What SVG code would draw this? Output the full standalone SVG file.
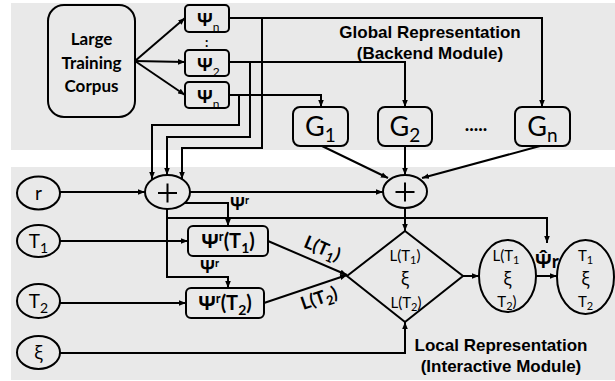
<svg xmlns="http://www.w3.org/2000/svg" width="615" height="381" viewBox="0 0 615 381">
  <defs>
    <marker id="ah" viewBox="0 0 10 10" refX="10" refY="5" markerWidth="7" markerHeight="7" orient="auto" markerUnits="userSpaceOnUse">
      <path d="M0,1 L10,5 L0,9 z" fill="#000"/>
    </marker>
    <style>
      .panel { fill: #e9e9e9; stroke: none; }
      .box { fill: #e9e9e9; stroke: #000; stroke-width: 2; }
      .ln { fill: none; stroke: #000; stroke-width: 2; }
      .arr { fill: none; stroke: #000; stroke-width: 2; marker-end: url(#ah); }
      .cal { font-family: Lato, "Open Sans", "DejaVu Sans", sans-serif; fill: #000; }
      .gk { font-family: "Open Sans", "DejaVu Sans", sans-serif; }
      .ar { font-family: "Liberation Sans", Arial, sans-serif; font-weight: bold; font-size: 17px; fill: #000; text-anchor: middle; }
      .b { font-weight: bold; }
      .mid { text-anchor: middle; }
    </style>
  </defs>

  <!-- module backgrounds -->
  <rect class="panel" x="11" y="3" width="604" height="147"/>
  <rect class="panel" x="11" y="167" width="604" height="213"/>

  <!-- module captions -->
  <text class="ar" x="430" y="38">Global Representation</text>
  <text class="ar" x="430" y="59">(Backend Module)</text>
  <text class="ar" x="501" y="351">Local Representation</text>
  <text class="ar" x="501" y="372">(Interactive Module)</text>

  <!-- connectors -->
  <g id="connectors">
    <path class="arr" d="M135,61 L185,18"/>
    <path class="arr" d="M135,61 L185,62"/>
    <path class="arr" d="M135,61 L185,95"/>
    <path class="arr" d="M229,18 H542 V107"/>
    <path class="arr" d="M229,62 H405 V107"/>
    <path class="arr" d="M229,95 H321 V107"/>
    <path class="arr" d="M262,18 V148 H182 V179"/>
    <path class="arr" d="M250,62 V137 H167 V175"/>
    <path class="arr" d="M239,95 V125 H152 V179"/>
    <path class="arr" d="M60,192 H145"/>
    <path class="arr" d="M190,192 H383"/>
    <path class="arr" d="M185,203 H228 V226"/>
    <path class="arr" d="M167,209 V277 H228 V288"/>
    <path class="arr" d="M167,218 H547 V243"/>
    <path class="arr" d="M60,241 H188"/>
    <path class="arr" d="M60,303 H186"/>
    <path class="arr" d="M60,353 H405 V322"/>
    <path class="arr" d="M268,241 L347,275"/>
    <path class="arr" d="M264,303 L347,275"/>
    <path class="arr" d="M322,146 L388,178"/>
    <path class="arr" d="M405,146 V175"/>
    <path class="arr" d="M540,146 L422,178"/>
    <path class="arr" d="M405,208 V231"/>
    <path class="arr" d="M463,276 H479"/>
    <path class="arr" d="M536,276 H557"/>
  </g>

  <!-- connector labels -->
  <g id="edge-labels" class="cal b">
    <text x="230" y="210" font-size="17"><tspan class="gk">Ψ</tspan><tspan font-size="11" dy="-6">r</tspan></text>
    <text x="200" y="273" font-size="17"><tspan class="gk">Ψ</tspan><tspan font-size="11" dy="-6">r</tspan></text>
    <text class="mid" font-size="18" transform="translate(320,254) rotate(23)">L(T<tspan font-size="13" dy="4">1</tspan><tspan dy="-4">)</tspan></text>
    <text class="mid" font-size="18" transform="translate(321,304) rotate(-19)">L(T<tspan font-size="13" dy="4">2</tspan><tspan dy="-4">)</tspan></text>
    <text x="535" y="268" font-size="19"><tspan class="gk">Ψ̂</tspan>r</text>
  </g>

  <g id="corpus">
    <rect class="box" x="48" y="5" width="87" height="112" rx="16"/>
    <text class="cal b mid" x="91.5" y="45" font-size="17">Large</text>
    <text class="cal b mid" x="91.5" y="69" font-size="17">Training</text>
    <text class="cal b mid" x="91.5" y="92" font-size="17">Corpus</text>
  </g>

  <g id="psi-n-top">
    <rect class="box" x="185" y="5" width="44" height="27" rx="4"/>
    <text class="cal b" x="197" y="26" font-size="18"><tspan class="gk">Ψ</tspan><tspan font-size="12" font-weight="normal" dy="5">n</tspan></text>
  </g>
  <text class="cal b" x="205" y="47" font-size="13">:</text>
  <g id="psi-2">
    <rect class="box" x="185" y="50" width="44" height="26" rx="4"/>
    <text class="cal b" x="197" y="71" font-size="18"><tspan class="gk">Ψ</tspan><tspan font-size="12" font-weight="normal" dy="5">2</tspan></text>
  </g>
  <g id="psi-n-bottom">
    <rect class="box" x="185" y="82" width="44" height="26" rx="4"/>
    <text class="cal b" x="197" y="103" font-size="18"><tspan class="gk">Ψ</tspan><tspan font-size="12" font-weight="normal" dy="5">n</tspan></text>
  </g>

  <g id="g1">
    <rect class="box" x="293" y="107" width="55" height="39" rx="7"/>
    <text class="cal mid" x="320.5" y="136" font-size="27">G<tspan font-size="19" dy="6">1</tspan></text>
  </g>
  <g id="g2">
    <rect class="box" x="378" y="107" width="54" height="39" rx="7"/>
    <text class="cal mid" x="405" y="136" font-size="27">G<tspan font-size="19" dy="6">2</tspan></text>
  </g>
  <text class="cal b mid" x="476" y="131" font-size="19">.....</text>
  <g id="gn">
    <rect class="box" x="515" y="107" width="55" height="39" rx="7"/>
    <text class="cal mid" x="542.5" y="136" font-size="27">G<tspan font-size="19" dy="6">n</tspan></text>
  </g>

  <g id="plus-local">
    <ellipse class="box" cx="167.5" cy="192" rx="22.5" ry="17"/>
    <path class="ln" d="M158,193 H177 M167.5,183.5 V202.5" stroke-width="3"/>
  </g>
  <g id="plus-global">
    <ellipse class="box" cx="405" cy="191.5" rx="22" ry="16.5"/>
    <path class="ln" d="M395.5,192 H414.5 M405,182.5 V201.5" stroke-width="3"/>
  </g>

  <g id="r">
    <ellipse class="box" cx="38.5" cy="193" rx="21.5" ry="16.5"/>
    <text class="cal mid" x="38.5" y="200" font-size="19">r</text>
  </g>
  <g id="t1">
    <ellipse class="box" cx="38.5" cy="241" rx="21.5" ry="16"/>
    <text class="cal mid" x="38.5" y="248" font-size="19">T<tspan font-size="14" dy="5">1</tspan></text>
  </g>
  <g id="t2">
    <ellipse class="box" cx="38.5" cy="301" rx="21.5" ry="17"/>
    <text class="cal mid" x="38.5" y="308" font-size="19">T<tspan font-size="14" dy="5">2</tspan></text>
  </g>
  <g id="xi">
    <ellipse class="box" cx="38.5" cy="352.5" rx="21.5" ry="16.5"/>
    <text class="cal gk mid" x="38.5" y="359" font-size="19">ξ</text>
  </g>

  <g id="psi-r-t1">
    <rect class="box" x="188" y="226" width="80" height="30" rx="5"/>
    <text class="cal b mid" x="228" y="248" font-size="20"><tspan class="gk">Ψ</tspan><tspan font-size="13" dy="-7">r</tspan><tspan dy="7">(T</tspan><tspan font-size="14" dy="5">1</tspan><tspan dy="-5">)</tspan></text>
  </g>
  <g id="psi-r-t2">
    <rect class="box" x="186" y="288" width="78" height="30" rx="5"/>
    <text class="cal b mid" x="225" y="310" font-size="20"><tspan class="gk">Ψ</tspan><tspan font-size="13" dy="-7">r</tspan><tspan dy="7">(T</tspan><tspan font-size="14" dy="5">2</tspan><tspan dy="-5">)</tspan></text>
  </g>

  <g id="merge">
    <path class="box" d="M405,231 L463,276 L405,322 L347,276 z"/>
    <text class="cal mid" x="405" y="261" font-size="15">L(T<tspan font-size="11" dy="3">1</tspan><tspan dy="-3">)</tspan></text>
    <text class="cal gk mid" x="405" y="285" font-size="18">ξ</text>
    <text class="cal mid" x="406" y="308" font-size="15">L(T<tspan font-size="11" dy="3">2</tspan><tspan dy="-3">)</tspan></text>
  </g>

  <g id="local-joint">
    <ellipse class="box" cx="507.5" cy="276" rx="28.5" ry="36"/>
    <text class="cal mid" x="506" y="261" font-size="15">L(T<tspan font-size="11" dy="3">1</tspan></text>
    <text class="cal gk mid" x="507.5" y="285" font-size="18">ξ</text>
    <text class="cal mid" x="507" y="307" font-size="15">T<tspan font-size="11" dy="3">2</tspan><tspan dy="-3">)</tspan></text>
  </g>

  <g id="local-result">
    <ellipse class="box" cx="585.5" cy="277" rx="28.5" ry="37"/>
    <text class="cal mid" x="585.5" y="261" font-size="15">T<tspan font-size="11" dy="3">1</tspan></text>
    <text class="cal gk mid" x="585.5" y="285" font-size="18">ξ</text>
    <text class="cal mid" x="585.5" y="307" font-size="15">T<tspan font-size="11" dy="3">2</tspan></text>
  </g>
</svg>
